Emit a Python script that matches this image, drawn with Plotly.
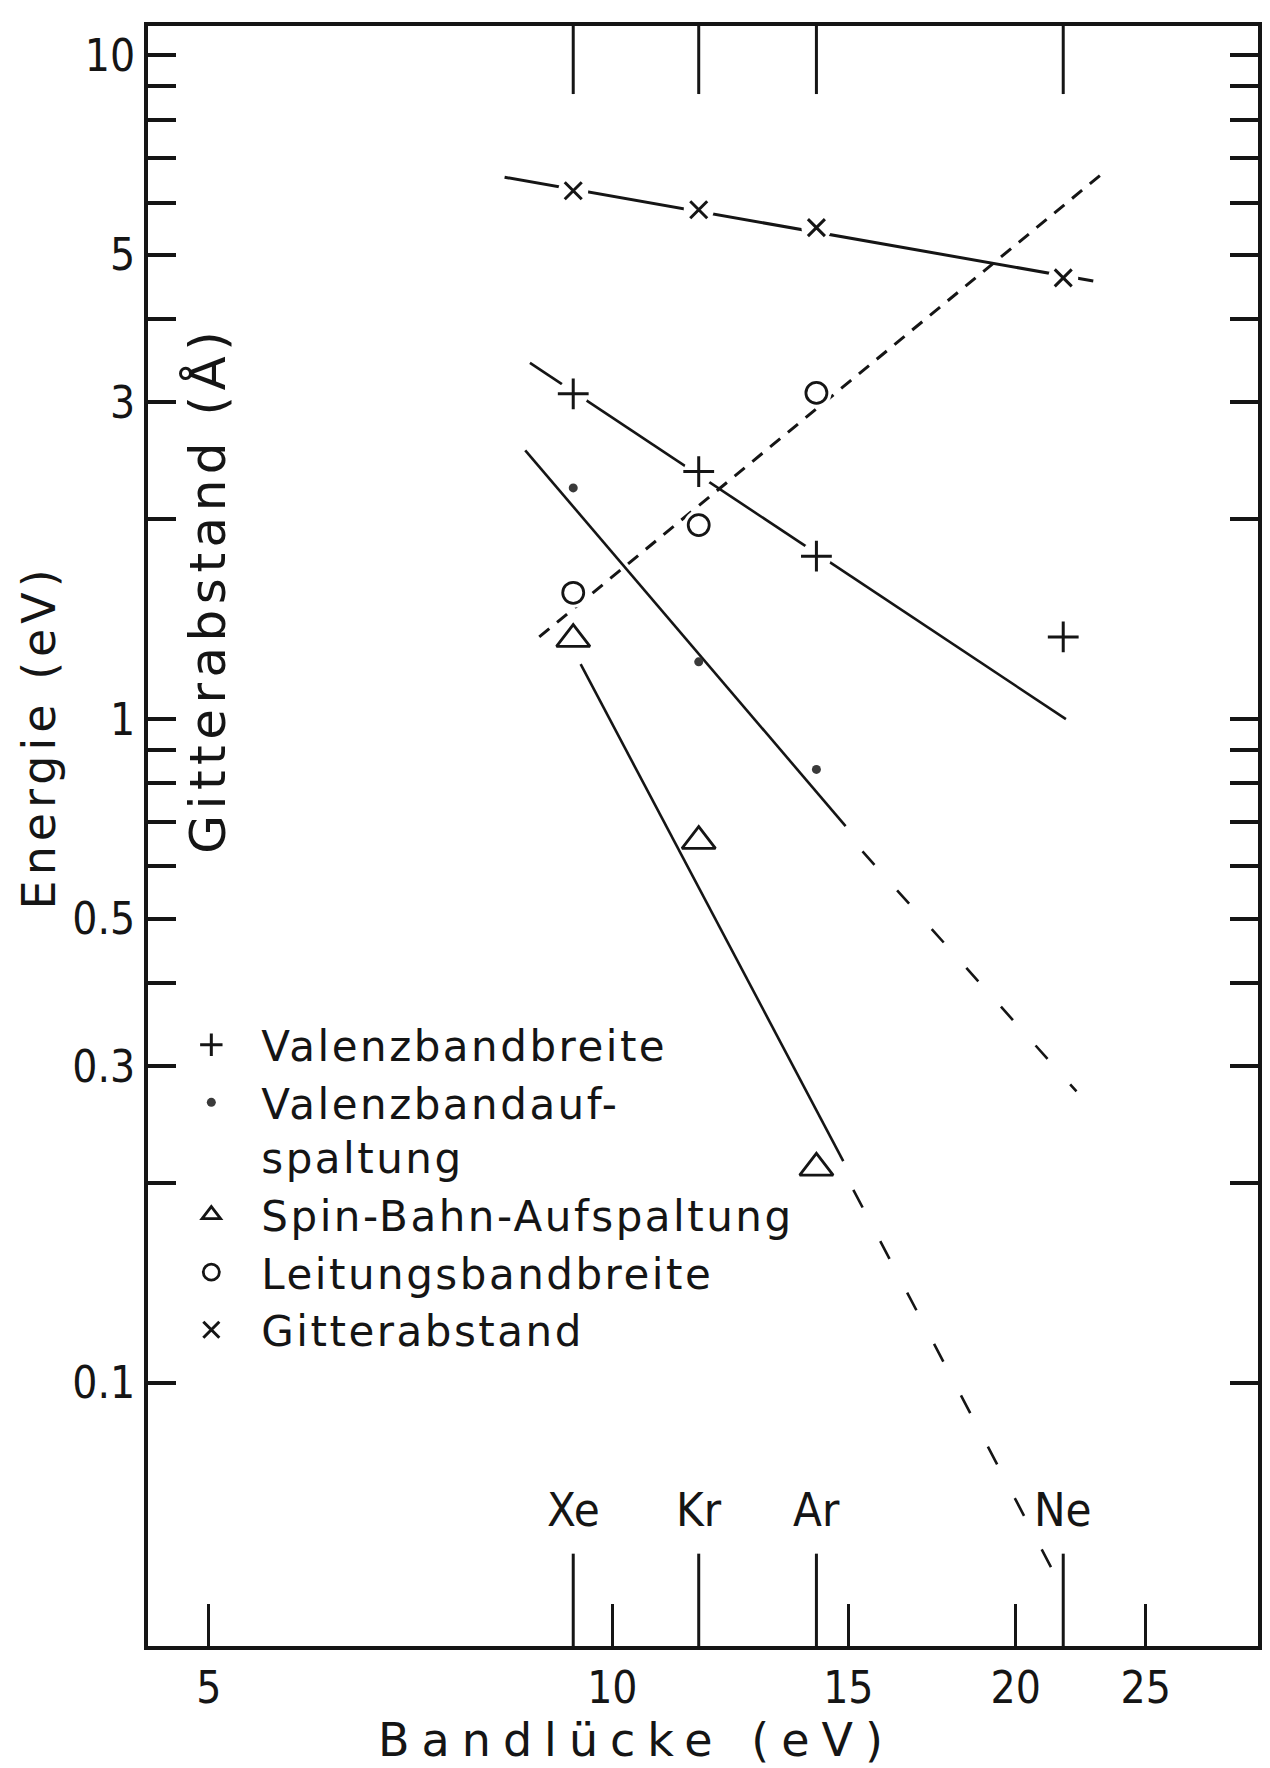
import math
import plotly.graph_objects as go

# ---------------- data ----------------
elements = ["Xe", "Kr", "Ar", "Ne"]
bandgap_eV = [9.35, 11.6, 14.2, 21.7]

valenzbandbreite = [3.09, 2.36, 1.76, 1.33]          # + (Xe, Kr, Ar, Ne)
valenzbandaufspaltung = [2.23, 1.22, 0.84]            # dot (Xe, Kr, Ar)
spin_bahn = [1.32, 0.655, 0.211]                      # triangle (Xe, Kr, Ar)
leitungsbandbreite = [1.55, 1.96, 3.10]               # circle (Xe, Kr, Ar)
gitterabstand = [6.25, 5.85, 5.50, 4.62]              # x (Xe, Kr, Ar, Ne)

# guide lines drawn in the original (end points, data units)
gitter_fit_x, gitter_fit_y = [8.31, 22.85], [6.55, 4.57]
vbb_fit_x, vbb_fit_y = [8.68, 21.8], [3.44, 1.00]
vba_fit_x, vba_fit_y = [8.61, 14.93], [2.54, 0.69]
vba_ext_x, vba_ext_y = [15.37, 22.2], [0.632, 0.275]
sb_fit_x, sb_fit_y = [9.47, 14.87], [1.21, 0.216]
sb_ext_x, sb_ext_y = [15.13, 21.9], [0.1955, 0.0470]
lbb_fit_x, lbb_fit_y = [8.82, 23.2], [1.33, 6.63]

x_tick_vals = [5, 10, 15, 20, 25]
y_tick_vals = [0.1, 0.2, 0.3, 0.4, 0.5, 0.6, 0.7, 0.8, 0.9,
               1, 2, 3, 4, 5, 6, 7, 8, 9, 10]
y_labelled = {0.1: "0.1", 0.3: "0.3", 0.5: "0.5", 1: "1", 3: "3", 5: "5", 10: "10"}
y_tick_text = [y_labelled.get(v, "") for v in y_tick_vals]

legend_names = ["Valenzbandbreite", "Valenzbandauf-<br>spaltung",
                "Spin-Bahn-Aufspaltung", "Leitungsbandbreite", "Gitterabstand"]

INK = "#151515"
TICKFONT = "Liberation Sans Narrow, DejaVu Sans Condensed, Roboto Condensed, Liberation Sans, sans-serif"
TEXTFONT = "DejaVu Sans, Noto Sans, sans-serif"


def spaced(text, px):
    return f'<span style="letter-spacing:{px}px">{text}</span>'


fig = go.Figure()

# ---------------- guide lines ----------------
def line(x, y, dash="solid", width=2.6):
    fig.add_trace(go.Scatter(x=x, y=y, mode="lines", showlegend=False,
                             hoverinfo="skip",
                             line=dict(color=INK, width=width, dash=dash)))

line(gitter_fit_x, gitter_fit_y, width=3)
line(vbb_fit_x, vbb_fit_y)
line(vba_fit_x, vba_fit_y)
line(vba_ext_x, vba_ext_y, dash="18px,34px")
line(sb_fit_x, sb_fit_y)
line(sb_ext_x, sb_ext_y, dash="20px,38px")
line(lbb_fit_x, lbb_fit_y, dash="13px,10px", width=3)

# white masks so the lines break around the symbols
mask_x = bandgap_eV + bandgap_eV + bandgap_eV[:3]
mask_y = valenzbandbreite + gitterabstand + leitungsbandbreite
fig.add_trace(go.Scatter(x=mask_x, y=mask_y, mode="markers", showlegend=False,
                         hoverinfo="skip",
                         marker=dict(symbol="circle", size=30, color="white",
                                     line=dict(width=0))))

# ---------------- markers (legend order) ----------------
LS = 2.5
fig.add_trace(go.Scatter(x=bandgap_eV, y=valenzbandbreite, mode="markers",
                         name=spaced(legend_names[0], LS),
                         marker=dict(symbol="cross-thin", size=22,
                                     line=dict(color=INK, width=3))))
fig.add_trace(go.Scatter(x=bandgap_eV[:3], y=valenzbandaufspaltung, mode="markers",
                         name=spaced(legend_names[1], LS),
                         marker=dict(symbol="circle", size=9, color="#3a3a3a",
                                     line=dict(width=0))))
fig.add_trace(go.Scatter(x=bandgap_eV[:3], y=spin_bahn, mode="markers",
                         name=spaced(legend_names[2], LS),
                         marker=dict(symbol="triangle-up-open", size=29,
                                     color=INK, line=dict(color=INK, width=2.8))))
fig.add_trace(go.Scatter(x=bandgap_eV[:3], y=leitungsbandbreite, mode="markers",
                         name=spaced(legend_names[3], LS),
                         marker=dict(symbol="circle-open", size=21,
                                     color=INK, line=dict(color=INK, width=2.8))))
fig.add_trace(go.Scatter(x=bandgap_eV, y=gitterabstand, mode="markers",
                         name=spaced(legend_names[4], LS),
                         marker=dict(symbol="x-thin", size=17,
                                     line=dict(color=INK, width=3))))

# ---------------- element ticks and labels ----------------
shapes = []
annotations = []
for el, xv in zip(elements, bandgap_eV):
    shapes.append(dict(type="line", xref="x", yref="paper", x0=xv, x1=xv,
                       y0=0, y1=0.057, line=dict(color=INK, width=3)))
    shapes.append(dict(type="line", xref="x", yref="paper", x0=xv, x1=xv,
                       y0=1, y1=0.958, line=dict(color=INK, width=3)))
    annotations.append(dict(text=el, x=math.log10(xv), xref="x",
                            y=0.084, yref="paper", showarrow=False,
                            xanchor="center", yanchor="middle",
                            font=dict(family=TICKFONT, size=47, color=INK)))

# axis titles
annotations.append(dict(text=spaced("Bandlücke (eV)", 12), x=0.44, y=-0.058,
                        xref="paper", yref="paper", showarrow=False,
                        xanchor="center", yanchor="middle",
                        font=dict(family=TEXTFONT, size=46, color=INK)))
annotations.append(dict(text=spaced("Energie (eV)", 5), x=-0.098, y=0.561,
                        xref="paper", yref="paper", showarrow=False,
                        textangle=-90, xanchor="center", yanchor="middle",
                        font=dict(family=TEXTFONT, size=46, color=INK)))
annotations.append(dict(text=spaced("Gitterabstand (Å)", 5.5), x=0.054, y=0.652,
                        xref="paper", yref="paper", showarrow=False,
                        textangle=-90, xanchor="center", yanchor="middle",
                        font=dict(family=TEXTFONT, size=50, color=INK)))

fig.update_layout(
    width=1270, height=1768,
    margin=dict(l=148, r=8, t=26, b=122),
    paper_bgcolor="white", plot_bgcolor="white",
    shapes=shapes, annotations=annotations,
    showlegend=True,
    legend=dict(x=0.012, y=0.392, xanchor="left", yanchor="top",
                bgcolor="rgba(0,0,0,0)", borderwidth=0,
                font=dict(family=TEXTFONT, size=42, color=INK),
                itemsizing="trace", valign="top", itemwidth=90),
    xaxis=dict(type="log", range=[0.6535, 1.4818],
               showgrid=False, zeroline=False,
               showline=True, linecolor=INK, linewidth=4, mirror=True,
               ticks="inside", ticklen=42, tickwidth=3, tickcolor=INK,
               tickvals=x_tick_vals, ticktext=[str(v) for v in x_tick_vals],
               tickfont=dict(family=TICKFONT, size=44, color=INK)),
    yaxis=dict(type="log", range=[-1.396, 1.044],
               showgrid=False, zeroline=False,
               showline=True, linecolor=INK, linewidth=4, mirror="ticks",
               ticks="inside", ticklen=28, tickwidth=4, tickcolor=INK,
               tickvals=y_tick_vals, ticktext=y_tick_text,
               tickfont=dict(family=TICKFONT, size=44, color=INK)),
)

fig.write_html("out.html")
